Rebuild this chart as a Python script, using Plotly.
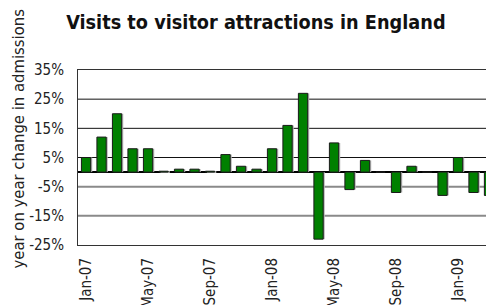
import plotly.graph_objects as go

months = ["Jan-07","Feb-07","Mar-07","Apr-07","May-07","Jun-07","Jul-07","Aug-07","Sep-07","Oct-07","Nov-07","Dec-07",
          "Jan-08","Feb-08","Mar-08","Apr-08","May-08","Jun-08","Jul-08","Aug-08","Sep-08","Oct-08","Nov-08","Dec-08",
          "Jan-09","Feb-09","Mar-09"]
changes = [5, 12, 20, 8, 8, 0.3, 1, 1, 0.3, 6, 2, 1,
           8, 16, 27, -23, 10, -6, 4, 0, -7, 2, 0, -8,
           5, -7, -8]
x_ticks = ["Jan-07","May-07","Sep-07","Jan-08","May-08","Sep-08","Jan-09"]
y_ticks = [35, 25, 15, 5, -5, -15, -25]
y_tick_labels = ["35%","25%","15%","5%","-5%","-15%","-25%"]

FONT = "DejaVu Sans Condensed, Liberation Sans Narrow, Arial Narrow, sans-serif"

fig = go.Figure()
# soft drop shadow behind the bars
fig.add_trace(go.Bar(
    x=months, y=changes,
    marker=dict(color="#b5b5b5", line=dict(width=0)),
    width=0.6, offset=-0.2, hoverinfo="skip",
))
fig.add_trace(go.Bar(
    x=months, y=changes,
    marker=dict(color="#008000", line=dict(color="#1a1a1a", width=1)),
    width=0.6, offset=-0.3,
))

shapes = []
for v in y_ticks[1:-1]:
    if v > 0:
        line = dict(color="#111", width=1)
    else:
        line = dict(color="#8a8a8a", width=2)
    shapes.append(dict(type="line", xref="paper", x0=0, x1=1, yref="y", y0=v, y1=v,
                       line=line, layer="below"))

# The page body adds an 8px offset; figure size and margins compensate for it.
fig.update_layout(
    width=486, height=297,
    margin=dict(l=70, r=0, t=62, b=60, autoexpand=False),
    paper_bgcolor="white", plot_bgcolor="white",
    showlegend=False, barmode="overlay",
    shapes=shapes,
    title=dict(text="<b>Visits to visitor attractions in England</b>",
               x=0.51, xanchor="center", y=0.953, yanchor="middle",
               font=dict(family=FONT, size=19.7, color="#111")),
    font=dict(family=FONT, size=15, color="#222"),
    annotations=[dict(text="year on year change in admissions", textangle=-90,
                      xref="paper", yref="paper", x=-0.144, y=0.609,
                      xanchor="center", yanchor="middle", showarrow=False,
                      font=dict(family=FONT, size=16.5, color="#222"))],
)
fig.update_xaxes(
    type="category", categoryorder="array", categoryarray=months,
    range=[-0.52, 26.32], automargin=False,
    tickmode="array", tickvals=x_ticks, ticktext=x_ticks,
    tickangle=-90, ticks="", showgrid=False, ticklabelstandoff=6,
    showline=True, linecolor="#333", linewidth=1, mirror=True,
    tickfont=dict(family=FONT, size=15, color="#222"),
)
fig.update_yaxes(
    range=[-25, 35], automargin=False,
    tickmode="array", tickvals=y_ticks, ticktext=y_tick_labels,
    ticks="", showgrid=False,
    zeroline=True, zerolinecolor="#000", zerolinewidth=2,
    showline=True, linecolor="#333", linewidth=1, ticklabelstandoff=10,
    tickfont=dict(family=FONT, size=15, color="#222"),
)

fig.write_html(
    "out.html",
    post_script="document.documentElement.style.overflow='hidden';document.body.style.overflow='hidden';",
)
